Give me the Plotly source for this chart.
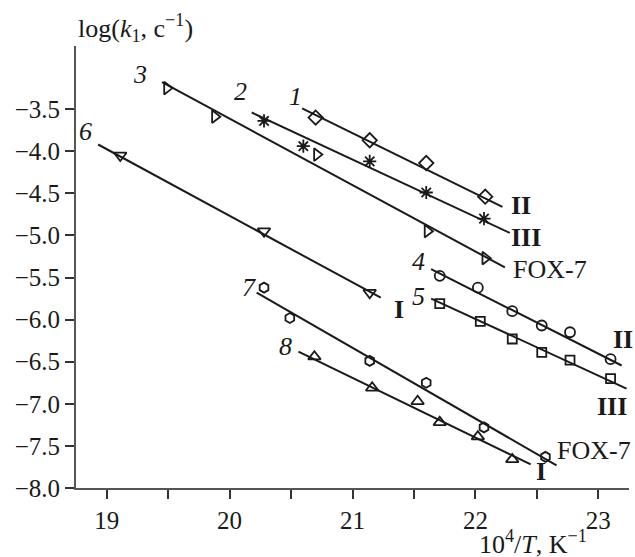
import plotly.graph_objects as go

# ---- data ----
s1_x = [20.70, 21.14, 21.60, 22.08]
s1_y = [-3.60, -3.87, -4.14, -4.54]
fit1_x = [20.59, 22.22]
fit1_y = [-3.49, -4.66]

s2_x = [20.28, 20.60, 21.14, 21.60, 22.07]
s2_y = [-3.64, -3.94, -4.12, -4.49, -4.80]
fit2_x = [20.18, 22.28]
fit2_y = [-3.54, -4.97]

s3_x = [19.49, 19.88, 20.71, 21.61, 22.08]
s3_y = [-3.25, -3.59, -4.04, -4.95, -5.27]
fit3_x = [19.45, 22.24]
fit3_y = [-3.18, -5.38]

s6_x = [19.11, 20.28, 21.14]
s6_y = [-4.05, -4.95, -5.68]
fit6_x = [18.93, 21.23]
fit6_y = [-3.92, -5.74]

s4_x = [21.71, 22.02, 22.30, 22.54, 22.77, 23.10]
s4_y = [-5.48, -5.62, -5.90, -6.07, -6.15, -6.47]
fit4_x = [21.64, 23.19]
fit4_y = [-5.40, -6.545]

s5_x = [21.71, 22.04, 22.30, 22.54, 22.77, 23.10]
s5_y = [-5.81, -6.02, -6.23, -6.39, -6.48, -6.70]
fit5_x = [21.64, 23.23]
fit5_y = [-5.75, -6.82]

s7_x = [20.28, 20.49, 21.14, 21.60, 22.07, 22.57]
s7_y = [-5.62, -5.98, -6.49, -6.75, -7.28, -7.63]
fit7_x = [20.22, 22.66]
fit7_y = [-5.68, -7.73]

s8_x = [20.69, 21.16, 21.53, 21.71, 22.02, 22.30]
s8_y = [-6.44, -6.81, -6.97, -7.22, -7.39, -7.66]
fit8_x = [20.56, 22.45]
fit8_y = [-6.38, -7.72]

y_ticks = [-3.5, -4.0, -4.5, -5.0, -5.5, -6.0, -6.5, -7.0, -7.5, -8.0]
x_ticks = [19, 20, 21, 22, 23]

FONT = "Liberation Serif"
INK = "#1a1a1a"

fig = go.Figure()

series = [
    (s1_x, s1_y, fit1_x, fit1_y, "diamond-open", 11),
    (s2_x, s2_y, fit2_x, fit2_y, "asterisk-open", 11),
    (s3_x, s3_y, fit3_x, fit3_y, "triangle-right-open", 11),
    (s6_x, s6_y, fit6_x, fit6_y, "triangle-down-open", 11),
    (s4_x, s4_y, fit4_x, fit4_y, "circle-open", 10),
    (s5_x, s5_y, fit5_x, fit5_y, "square-open", 9),
    (s7_x, s7_y, fit7_x, fit7_y, "hexagon-open", 10),
    (s8_x, s8_y, fit8_x, fit8_y, "triangle-up-open", 11),
]

for sx, sy, fx, fy, sym, sz in series:
    fig.add_trace(go.Scatter(x=fx, y=fy, mode="lines",
                             line=dict(color=INK, width=2), showlegend=False,
                             hoverinfo="skip"))
    fig.add_trace(go.Scatter(x=sx, y=sy, mode="markers",
                             marker=dict(symbol=sym, size=sz, color=INK,
                                         line=dict(color=INK, width=1.8)),
                             showlegend=False, cliponaxis=False))

# curve numbers (italic)
num_labels = [
    ("1", 20.54, -3.35), ("2", 20.09, -3.295), ("3", 19.27, -3.085),
    ("6", 18.83, -3.77), ("4", 21.54, -5.31), ("5", 21.54, -5.72),
    ("7", 20.155, -5.62), ("8", 20.455, -6.32),
]
for t, x, y in num_labels:
    fig.add_annotation(x=x, y=y, text="<i>%s</i>" % t, showarrow=False,
                       font=dict(family=FONT, size=26, color=INK))

# end labels
end_labels = [
    ("<b>II</b>", 22.37, -4.64, "center"),
    ("<b>III</b>", 22.41, -5.03, "center"),
    ("FOX-7", 22.29, -5.41, "left"),
    ("<b>I</b>", 21.38, -5.88, "center"),
    ("<b>II</b>", 23.20, -6.24, "center"),
    ("<b>III</b>", 23.11, -7.03, "center"),
    ("FOX-7", 22.65, -7.56, "left"),
    ("<b>I</b>", 22.53, -7.80, "center"),
]
for t, x, y, anc in end_labels:
    fig.add_annotation(x=x, y=y, text=t, showarrow=False, xanchor=anc,
                       font=dict(family=FONT, size=26, color=INK))

# axis titles
fig.add_annotation(xref="paper", yref="paper", x=0, y=1.0, yshift=18,
                   xanchor="left", yanchor="middle", showarrow=False,
                   text="log(<i>k</i><sub>1</sub>, c<sup>−1</sup>)",
                   font=dict(family=FONT, size=26, color=INK))
fig.add_annotation(xref="x", yref="paper", x=22.47, y=0, yshift=-54,
                   yanchor="middle", showarrow=False,
                   text="10<sup>4</sup>/<i>T</i>, K<sup>−1</sup>",
                   font=dict(family=FONT, size=26, color=INK))

fig.update_layout(
    width=635, height=557,
    margin=dict(l=76, r=6, t=46, b=69),
    paper_bgcolor="white", plot_bgcolor="white",
    font=dict(family=FONT, size=25, color=INK),
    xaxis=dict(range=[18.75, 23.25], tickvals=x_ticks, ticktext=[str(v) for v in x_ticks],
               showgrid=False, zeroline=False, showline=True, linecolor="#555",
               linewidth=2, ticks="outside", ticklen=9, tickwidth=1.5, tickcolor="#333",
               minor=dict(tickvals=[19.5, 20.5, 21.5, 22.5], ticks="outside",
                          ticklen=9, tickwidth=1.5, tickcolor="#333"),
               tickfont=dict(family=FONT, size=25, color=INK)),
    yaxis=dict(range=[-8.0, -2.75], tickvals=y_ticks,
               ticktext=["−%.1f" % abs(v) for v in y_ticks],
               showgrid=False, zeroline=False, showline=True, linecolor="#555",
               linewidth=2, ticks="outside", ticklen=9, tickwidth=1.5, tickcolor="#333",
               ticklabelstandoff=0,
               tickfont=dict(family=FONT, size=25, color=INK)),
)

fig.write_html("out.html")
